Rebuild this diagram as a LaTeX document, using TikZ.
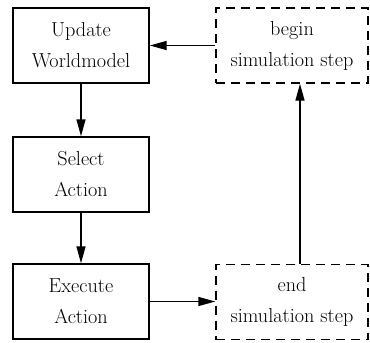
\documentclass[tikz,border=0pt]{standalone}
\usepackage{fontspec}
\newfontfamily\serifx{Liberation Serif}
\usetikzlibrary{arrows.meta}
\begin{document}
\begin{tikzpicture}[x=1pt,y=-1pt,
  box/.style={draw,line width=1.4pt,minimum width=136pt,minimum height=75pt,align=center,inner sep=0pt,font=\fontsize{20.2}{31}\selectfont},
  dbox/.style={box,dash pattern=on 9pt off 6pt,minimum width=152pt},
  arr/.style={line width=1.4pt,-{Triangle[length=17pt,width=9pt]}}]
\useasboundingbox (0,0) rectangle (370,343);
\node[box] (upd) at (81,45.5) {Update\\Worldmodel};
\node[box] (sel) at (81,174.5) {Select\\Action};
\node[box] (exe) at (81,301.5) {Execute\\Action};
\node[dbox] (beg) at (292,45.5) {begin\\simulation step};
\node[dbox] (end) at (292,302) {end\\simulation step};
\draw[arr] (beg.west) -- (upd.east);
\draw[arr] (upd.south) -- (sel.north);
\draw[arr] (sel.south) -- (exe.north);
\draw[arr] (exe.east) -- (end.west |- exe.east);
\draw[arr] ([xshift=8pt]end.north) -- ([xshift=8pt]beg.south);
\end{tikzpicture}
\end{document}
